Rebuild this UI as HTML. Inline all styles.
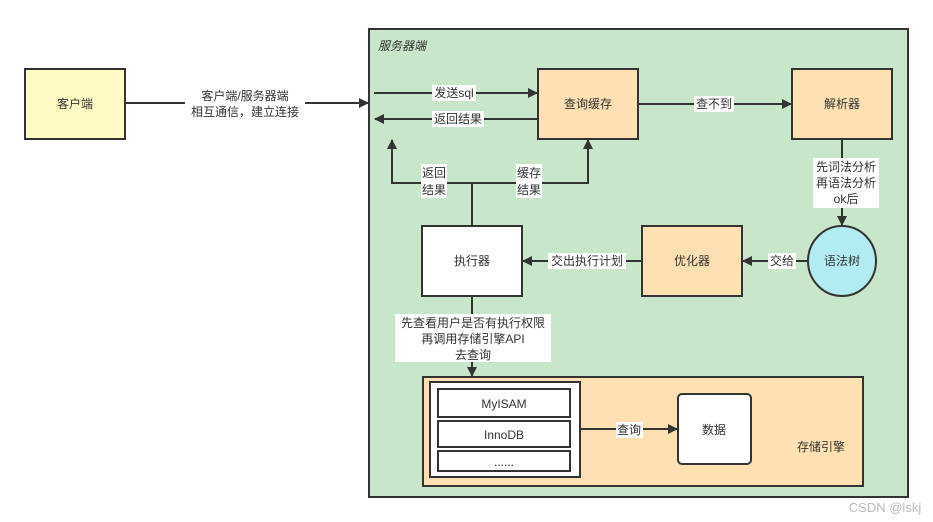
<!DOCTYPE html>
<html><head><meta charset="utf-8"><style>
html,body{margin:0;padding:0;background:#fff;}
svg{display:block;}
text{font-family:"Liberation Sans","Noto Sans CJK SC",sans-serif;font-size:12px;fill:#333;}
</style></head><body>
<svg width="933" height="522" viewBox="0 0 933 522" xmlns="http://www.w3.org/2000/svg">
<defs>
<marker id="a" viewBox="0 0 10 10" refX="9" refY="5" markerWidth="10" markerHeight="10" markerUnits="userSpaceOnUse" orient="auto"><path d="M0,0 L10,5 L0,10 z" fill="#333"/></marker>
</defs>
<rect x="25" y="69" width="100" height="70" fill="#fff9c4" stroke="#333" stroke-width="2"/>
<text x="75" y="108" text-anchor="middle">客户端</text>
<line x1="125" y1="103" x2="368" y2="103" stroke="#333" stroke-width="2" marker-end="url(#a)"/>
<rect x="185" y="88" width="120" height="32" fill="#fff"/>
<text x="245" y="100" text-anchor="middle">客户端/服务器端</text>
<text x="245" y="116" text-anchor="middle">相互通信，建立连接</text>

<rect x="369" y="29" width="539" height="468" fill="#c8e6c9" stroke="#333" stroke-width="2"/>
<text x="378" y="50" font-style="italic" style="font-style:italic">服务器端</text>

<rect x="538" y="69" width="100" height="70" fill="#ffe0b2" stroke="#333" stroke-width="2"/>
<text x="588" y="108" text-anchor="middle">查询缓存</text>
<line x1="374" y1="93" x2="537" y2="93" stroke="#333" stroke-width="2" marker-end="url(#a)"/>
<rect x="432" y="85" width="44" height="16" fill="#fff"/>
<text x="454" y="97" text-anchor="middle">发送sql</text>
<line x1="538" y1="119" x2="375" y2="119" stroke="#333" stroke-width="2" marker-end="url(#a)"/>
<rect x="432" y="111" width="52" height="16" fill="#fff"/>
<text x="458" y="123" text-anchor="middle">返回结果</text>

<rect x="792" y="69" width="100" height="70" fill="#ffe0b2" stroke="#333" stroke-width="2"/>
<text x="842" y="108" text-anchor="middle">解析器</text>
<line x1="638" y1="104" x2="791" y2="104" stroke="#333" stroke-width="2" marker-end="url(#a)"/>
<rect x="694" y="96" width="40" height="16" fill="#fff"/>
<text x="714" y="108" text-anchor="middle">查不到</text>

<line x1="842" y1="139" x2="842" y2="225" stroke="#333" stroke-width="2" marker-end="url(#a)"/>
<rect x="813" y="158" width="66" height="50" fill="#fff"/>
<text x="846" y="171" text-anchor="middle">先词法分析</text>
<text x="846" y="187" text-anchor="middle">再语法分析</text>
<text x="846" y="203" text-anchor="middle">ok后</text>

<ellipse cx="842" cy="261" rx="34" ry="35" fill="#b2ebf2" stroke="#333" stroke-width="2"/>
<text x="842" y="265" text-anchor="middle">语法树</text>

<rect x="642" y="226" width="100" height="70" fill="#ffe0b2" stroke="#333" stroke-width="2"/>
<text x="692" y="265" text-anchor="middle">优化器</text>
<line x1="808" y1="261" x2="743" y2="261" stroke="#333" stroke-width="2" marker-end="url(#a)"/>
<rect x="768" y="253" width="28" height="16" fill="#fff"/>
<text x="782" y="265" text-anchor="middle">交给</text>

<rect x="422" y="226" width="100" height="70" fill="#fff" stroke="#333" stroke-width="2"/>
<text x="472" y="265" text-anchor="middle">执行器</text>
<line x1="642" y1="261" x2="523" y2="261" stroke="#333" stroke-width="2" marker-end="url(#a)"/>
<rect x="548" y="253" width="78" height="16" fill="#fff"/>
<text x="587" y="265" text-anchor="middle">交出执行计划</text>

<polyline points="472,226 472,183 392,183 392,140" fill="none" stroke="#333" stroke-width="2" marker-end="url(#a)"/>
<polyline points="472,183 588,183 588,140" fill="none" stroke="#333" stroke-width="2" marker-end="url(#a)"/>
<rect x="421" y="164" width="26" height="34" fill="#fff"/>
<text x="434" y="177" text-anchor="middle">返回</text>
<text x="434" y="194" text-anchor="middle">结果</text>
<rect x="516" y="164" width="26" height="34" fill="#fff"/>
<text x="529" y="177" text-anchor="middle">缓存</text>
<text x="529" y="194" text-anchor="middle">结果</text>

<line x1="472" y1="296" x2="472" y2="376" stroke="#333" stroke-width="2" marker-end="url(#a)"/>
<rect x="395" y="314" width="156" height="48" fill="#fff"/>
<text x="473" y="327" text-anchor="middle">先查看用户是否有执行权限</text>
<text x="473" y="343" text-anchor="middle">再调用存储引擎API</text>
<text x="473" y="359" text-anchor="middle">去查询</text>

<rect x="423" y="377" width="440" height="109" fill="#ffe0b2" stroke="#333" stroke-width="2"/>
<rect x="430" y="382" width="150" height="95" fill="#fff" stroke="#333" stroke-width="2"/>
<rect x="438" y="389" width="132" height="28" fill="#fff" stroke="#333" stroke-width="2"/>
<text x="504" y="408" text-anchor="middle">MyISAM</text>
<rect x="438" y="421" width="132" height="26" fill="#fff" stroke="#333" stroke-width="2"/>
<text x="504" y="439" text-anchor="middle">InnoDB</text>
<rect x="438" y="451" width="132" height="20" fill="#fff" stroke="#333" stroke-width="2"/>
<text x="504" y="466" text-anchor="middle">......</text>
<line x1="580" y1="429" x2="677" y2="429" stroke="#333" stroke-width="2" marker-end="url(#a)"/>
<rect x="616" y="422" width="27" height="16" fill="#fff"/>
<text x="629" y="434" text-anchor="middle">查询</text>
<rect x="678" y="394" width="73" height="70" rx="4" fill="#fff" stroke="#333" stroke-width="2"/>
<text x="714" y="434" text-anchor="middle">数据</text>
<text x="821" y="451" text-anchor="middle">存储引擎</text>

<text x="885" y="512" text-anchor="middle" style="fill:#bbb;font-size:13px">CSDN @lskj</text>
</svg>
</body></html>
